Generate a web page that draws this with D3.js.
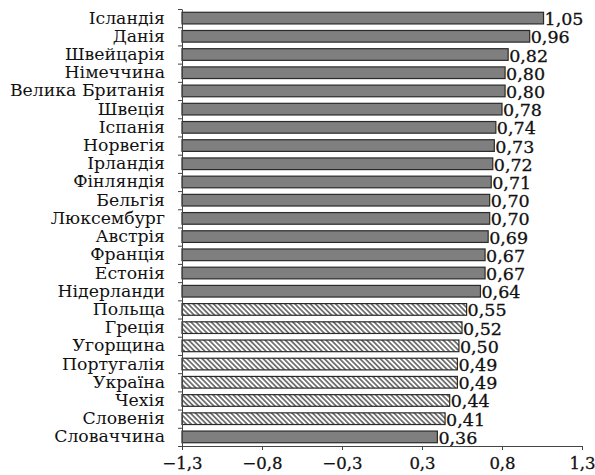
<!DOCTYPE html>
<html><head><meta charset="utf-8">
<script src="https://cdn.jsdelivr.net/npm/d3@7"></script>
<style>
html,body{margin:0;padding:0;background:#fff;}
svg text{font-family:"DejaVu Serif",serif;fill:#111;}
</style></head>
<body>
<svg id="c" width="595" height="475"></svg>
<script>
const countries = ["Ісландія","Данія","Швейцарія","Німеччина","Велика Британія","Швеція","Іспанія","Норвегія","Ірландія","Фінляндія","Бельгія","Люксембург","Австрія","Франція","Естонія","Нідерланди","Польща","Греція","Угорщина","Португалія","Україна","Чехія","Словенія","Словаччина"];
const values = [1.05,0.96,0.82,0.80,0.80,0.78,0.74,0.73,0.72,0.71,0.70,0.70,0.69,0.67,0.67,0.64,0.55,0.52,0.50,0.49,0.49,0.44,0.41,0.36];
const hatched = [false,false,false,false,false,false,false,false,false,false,false,false,false,false,false,false,true,true,true,true,true,true,true,false];
const xTicks = [-1.3,-0.78,-0.26,0.26,0.78,1.3];

(function(){
const svg = d3.select("#c");
const mLeft = 182, mRight = 582, mTop = 9, mBottom = 446;

const x = d3.scaleLinear().domain([-1.3, 1.3]).range([mLeft, mRight]);
const y = d3.scaleBand().domain(countries).range([mTop, mBottom]).paddingInner(0.36).paddingOuter(0.18);
const yIdx = d3.scaleLinear().domain([0, countries.length]).range([mTop, mBottom]);

const defs = svg.append("defs");
const pat = defs.append("pattern").attr("id","hatch").attr("patternUnits","userSpaceOnUse")
  .attr("width",3.6).attr("height",3.6).attr("patternTransform","rotate(-45)");
pat.append("rect").attr("width",3.6).attr("height",3.6).attr("fill","#fff");
pat.append("line").attr("x1",0.9).attr("y1",0).attr("x2",0.9).attr("y2",3.6).attr("stroke","#555").attr("stroke-width",1.5);

const rows = countries.map((c,i)=>({c, v: values[i], h: hatched[i]}));
svg.append("g").selectAll("rect").data(rows).join("rect")
  .attr("x", x(-1.3))
  .attr("y", d => y(d.c))
  .attr("width", d => x(d.v) - x(-1.3))
  .attr("height", y.bandwidth())
  .attr("fill", d => d.h ? "url(#hatch)" : "#7f7f7f")
  .attr("stroke", "#2a2a2a").attr("stroke-width", 1.2);

svg.append("g").selectAll("text").data(rows).join("text")
  .attr("x", d => x(d.v) + 1)
  .attr("y", d => y(d.c) + y.bandwidth()/2 + 7)
  .attr("font-size", 17.5)
  .attr("stroke", "#111").attr("stroke-width", 0.3)
  .text(d => d.v.toFixed(2).replace(".", ","));

const ya = svg.append("g").attr("transform", `translate(${mLeft},0)`)
  .call(d3.axisLeft(yIdx).tickValues(d3.range(countries.length+1)).tickFormat("").tickSize(4).tickSizeOuter(0));
ya.selectAll("path,line").attr("stroke","#444").attr("stroke-width",1);

svg.append("g").selectAll("text").data(countries).join("text")
  .attr("x", 165)
  .attr("y", d => y(d) + y.bandwidth()/2 + 5.5)
  .attr("text-anchor","end")
  .attr("font-size", 17.3)
  .text(d => d);

const xa = svg.append("g").attr("transform", `translate(0,${mBottom})`)
  .call(d3.axisBottom(x).tickValues(xTicks).tickSize(4).tickSizeOuter(0)
    .tickFormat(d => d.toFixed(1).replace(".", ",").replace("-", "−")));
xa.selectAll("path,line").attr("stroke","#444").attr("stroke-width",1);
xa.selectAll("text").attr("font-size",16.5).attr("font-family","DejaVu Serif, serif").attr("fill","#111")
  .attr("stroke","#111").attr("stroke-width",0.3).attr("dy","0.95em");
})();
</script>
</body></html>
